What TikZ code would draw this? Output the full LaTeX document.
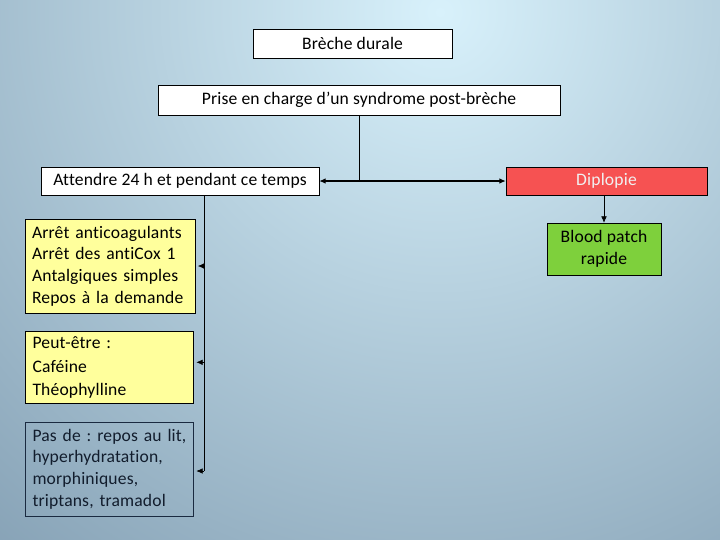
\documentclass[tikz,border=0pt]{standalone}
\usepackage{fontspec}
\setmainfont[LetterSpace=1.0, Ligatures=NoCommon]{Carlito}
\frenchspacing
\usetikzlibrary{arrows.meta}

\definecolor{bglight}{HTML}{D8F1FB}
\definecolor{bgdark}{HTML}{56738D}
\definecolor{diplored}{HTML}{F65252}
\definecolor{patchgreen}{HTML}{7ED03C}
\definecolor{notepale}{HTML}{FFFF9C}
\definecolor{navyline}{HTML}{1A2A40}

\tikzset{
  box/.style={draw, thin, fill=white, minimum height=0.7cm, inner sep=2pt,
    font=\fontsize{12.5}{15.5}\selectfont},
  note/.style={draw, thin, fill=notepale, align=left, text width=3.85cm,
    inner xsep=0.17cm, font=\fontsize{12.5}{15.5}\selectfont},
  link/.style={thin, >={Latex[length=4.5pt,width=4pt]}},
}

\begin{document}
\begin{tikzpicture}
\useasboundingbox (0,0) rectangle (18,-13.5);
% background
\begin{scope}
\clip (0,0) rectangle (18,-13.5);
\shade[inner color=bglight, outer color=bgdark] (11,-0.3) circle (28);
\end{scope}

% top of the chart
\node[box, minimum width=4.975cm, minimum height=0.725cm] (breche) at (8.8125,-1.0875) {Brèche durale};
\node[box, minimum width=10.05cm, minimum height=0.75cm] (prise) at (8.975,-2.5) {Prise en charge d’un syndrome post-brèche};
\node[box, minimum width=6.95cm] (attendre) at (4.5,-4.525) {Attendre 24 h et pendant ce temps};
\node[box, fill=diplored, text=white!94!black, minimum width=5.025cm] (diplopie) at (15.1625,-4.525) {Diplopie};
\node[box, fill=patchgreen, minimum width=2.85cm, minimum height=1.3cm, align=center] (patch) at (15.1,-6.225) {Blood patch\\rapide};

% left column
\node[note, minimum height=2.35cm, text width=3.9cm] (arret) at (2.75,-6.65) {Arrêt anticoagulants\\Arrêt des antiCox 1\\Antalgiques simples\\Repos à la demande};
\node[note, minimum height=1.725cm, font=\fontsize{12.5}{17}\selectfont] (peut) at (2.7375,-9.1875) {Peut-être :\\Caféine\\Théophylline};
\node[note, fill=none, draw=navyline, minimum height=2.35cm, text=navyline!70!black] (pasde) at (2.7375,-11.725) {\mbox{Pas de : repos au lit,}\\hyperhydratation,\\morphiniques,\\triptans, tramadol};

% connectors
\coordinate (trunk) at (5.1,-11.775);
\draw[link] (prise.south) -- (prise.south |- attendre.east);
\draw[link, <->, thick] (attendre.east) -- (diplopie.west);
\draw[link, ->] (diplopie.south -| patch.north) -- (patch.north);
\draw[link] (attendre.south -| trunk) -- (trunk);
\draw[link, ->, shorten >=2pt] (arret.east -| trunk) -- (arret.east);
\draw[link, ->, shorten >=2pt] ([yshift=0.13cm]peut.east -| trunk) -- ([yshift=0.13cm]peut.east);
\draw[link, ->, shorten >=2pt] (trunk) -- (trunk -| pasde.east);
\end{tikzpicture}
\end{document}
